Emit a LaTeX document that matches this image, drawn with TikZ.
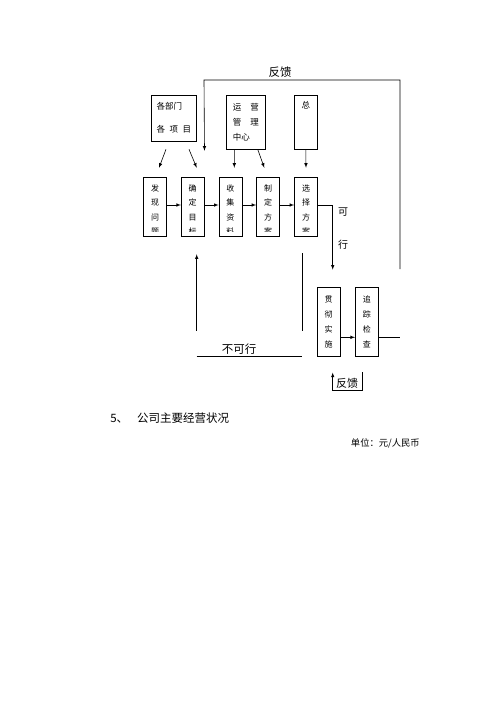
\documentclass[tikz,border=0pt]{standalone}
\usepackage{fontspec}
\newfontfamily\cjk{Noto Sans CJK SC}
\tikzset{>=latex}
\tikzset{
    box/.style={draw, inner sep=0pt},
    boxtext/.style={font=\cjk\fontsize{8}{14.5}\selectfont, align=center, inner sep=0pt},
    sidetext/.style={font=\cjk\fontsize{11}{13}\selectfont, inner sep=0pt}
}

\begin{document}
\begin{tikzpicture}[x=1pt, y=-1pt, line width=0.6pt]
    \useasboundingbox[fill=white] (0,0) rectangle (500,707);

    % upper boxes
    \node[box, minimum width=45.7pt, minimum height=46pt, font=\cjk\fontsize{8.5}{23.3}\selectfont, align=left] at (173.8,118) (bumen) {各部门\\各\hspace{4.5pt}项\hspace{4.5pt}目};
    \node[box, minimum width=38.3pt, minimum height=54pt, font=\cjk\fontsize{8.5}{15}\selectfont, align=left] at (245.8,122) (yunying) {运\hspace{9pt}营\\管\hspace{9pt}理\\中心};
    \node[box, minimum width=22.3pt, minimum height=54pt] at (305.8,122) (zong) {};
    \node[boxtext, font=\cjk\fontsize{8.5}{15}\selectfont] at ([yshift=-10.7pt]zong.north) (zongt) {总};

    % main row
    \node[box, minimum width=23pt, minimum height=59.3pt] at (155,207) (faxian) {};
    \node[box, minimum width=23pt, minimum height=59.3pt] at (192.7,207) (queding) {};
    \node[box, minimum width=23pt, minimum height=59.3pt] at (230.4,207) (shouji) {};
    \node[box, minimum width=23pt, minimum height=59.3pt] at (268,207) (zhiding) {};
    \node[box, minimum width=23pt, minimum height=59.3pt] at (306,207) (xuanze) {};

    \begin{scope}
        \clip (140,175) rectangle (320,231.5);
        \node[boxtext] at ([yshift=-3pt]faxian.center) (faxiant) {发\\现\\问\\题};
        \node[boxtext] at ([yshift=-3pt]queding.center) (quedingt) {确\\定\\目\\标};
        \node[boxtext] at ([yshift=-3pt]shouji.center) (shoujit) {收\\集\\资\\料};
        \node[boxtext] at ([yshift=-3pt]zhiding.center) (zhidingt) {制\\定\\方\\案};
        \node[boxtext] at ([yshift=-3pt]xuanze.center) (xuanzet) {选\\择\\方\\案};
    \end{scope}

    % lower boxes
    \node[box, boxtext, font=\cjk\fontsize{8}{15}\selectfont, minimum width=22.7pt, minimum height=69pt] at (328.7,322.2) (guanche) {贯\\彻\\实\\施};
    \node[box, boxtext, font=\cjk\fontsize{8}{15}\selectfont, minimum width=23pt, minimum height=69pt] at (366.8,322.2) (zhuizong) {追\\踪\\检\\查};

    % arrows into the main row
    \draw[->] ([xshift=-7.8pt,yshift=-8pt]bumen.south) -- ([xshift=4pt,yshift=9.3pt]faxian.north);
    \draw[->] ([xshift=15.2pt,yshift=-8pt]bumen.south) -- ([xshift=4pt,yshift=9.3pt]queding.north);
    \draw[->] ([xshift=-11.5pt]yunying.south) -- ([xshift=3.9pt,yshift=9.3pt]shouji.north);
    \draw[->] ([xshift=11.9pt]yunying.south) -- ([xshift=-3.7pt,yshift=9.3pt]zhiding.north);
    \draw[->] (zong.south) -- ([yshift=9.3pt]xuanze.north);

    \draw[->] ([yshift=2pt]faxian.east) -- ([yshift=2pt]queding.west);
    \draw[->] ([yshift=2pt]queding.east) -- ([yshift=2pt]shouji.west);
    \draw[->] ([yshift=2pt]shouji.east) -- ([yshift=2pt]zhiding.west);
    \draw[->] ([yshift=2pt]zhiding.east) -- ([yshift=2pt]xuanze.west);

    % feedback on top
    \coordinate (fbstart) at (400,269);
    \coordinate (fbtop) at (204,80);
    \draw[->] (fbstart) |- (fbtop) -- ([yshift=26.3pt]queding.north east);
    \node[sidetext, font=\cjk\fontsize{11.5}{13}\selectfont] at (280,72) (fbtext) {反馈};

    % feasible
    \draw[->] ([yshift=2pt]xuanze.east) -| ([xshift=4pt,yshift=17.7pt]guanche.north);
    \node[sidetext, font=\cjk\fontsize{10}{13}\selectfont] at (343,212) (ke) {可};
    \node[sidetext, font=\cjk\fontsize{10}{13}\selectfont] at (343,245) (xing) {行};

    % not feasible
    \coordinate (bkA) at (196.7,330.7);
    \coordinate (bkB) at (302.3,253);
    \coordinate (bkC) at (302.3,330.7);
    \coordinate (bkD) at (196.7,356.7);
    \coordinate (bkE) at (302.3,356.7);
    \draw[->] (bkA) -- ([xshift=4pt,yshift=-17.3pt]queding.south);
    \draw (bkB) -- (bkC);
    \draw (bkD) -- (bkE);
    \node[sidetext, font=\cjk\fontsize{11.5}{13}\selectfont] at (239,349.3) (bukexing) {不可行};

    \draw[->] ([yshift=-15.1pt]guanche.east) -- ([yshift=-15.1pt]zhuizong.west);
    \coordinate (zzend) at (400,337.3);
    \draw ([yshift=-15.1pt]zhuizong.east) -- (zzend);

    % feedback below
    \coordinate (fbB) at (362.7,372);
    \coordinate (fbC) at (332.7,390.7);
    \draw[->] (fbB) |- (fbC) -- ([xshift=4pt,yshift=-15.6pt]guanche.south);
    \node[sidetext] at (347,383) (fbtext2) {反馈};

    % text below the chart
    \node[font=\cjk\fontsize{11.5}{14}\selectfont, anchor=west, inner sep=0pt] at (110,418) (sec) {5、\hspace{9pt}公司主要经营状况};
    \node[font=\cjk\fontsize{9.3}{12}\selectfont, anchor=east, inner sep=0pt] at (420,443.3) (unit) {单位：元/人民币};
\end{tikzpicture}
\end{document}
